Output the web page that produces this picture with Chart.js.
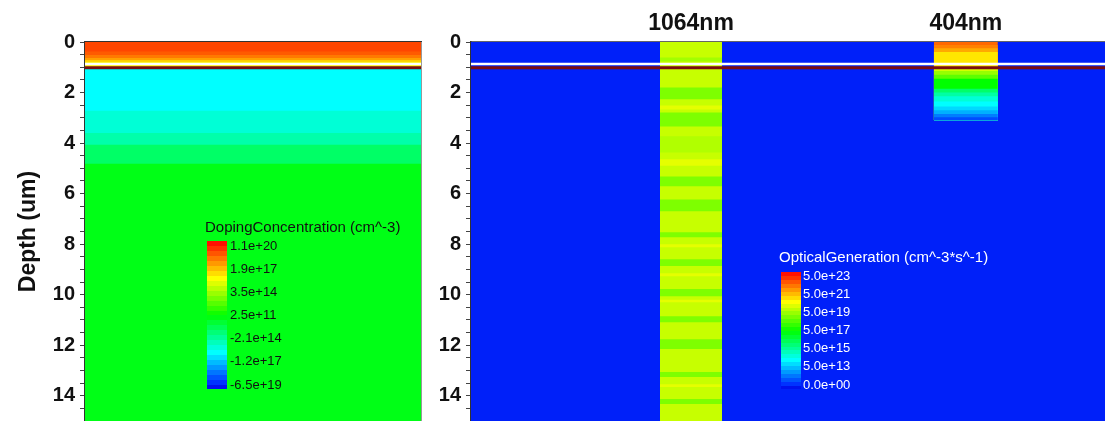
<!DOCTYPE html>
<html>
<head>
<meta charset="utf-8">
<script src="https://cdn.jsdelivr.net/npm/chart.js@4.4.1/dist/chart.umd.min.js"></script>
<style>
  body { margin: 0; background: #fff; }
  #wrap { position: relative; width: 1105px; height: 421px; overflow: hidden; }
  #left { position: absolute; left: 0; top: 0; width: 422px; height: 421px; }
  #right { position: absolute; left: 422px; top: 0; width: 683px; height: 421px; }
</style>
</head>
<body>
<div id="wrap">
  <div id="left"><canvas id="dopingChart"></canvas></div>
  <div id="right"><canvas id="genChart"></canvas></div>
</div>
<script>
var depthTickLabels = ["0", "2", "4", "6", "8", "10", "12", "14"];

// doping profile: top of each band (um) and net doping (cm^-3)
var dopingDepth = [0, 0.38, 0.51, 0.63, 0.71, 0.78, 1.02, 2.72, 3.6, 4.07, 4.82];
var dopingValue = [8e18, 3.8e18, 1.2e18, 2.8e17, 5e16, 1.4e16, -5e15, -1.1e15, -2.1e14, -1e4, 1e8];
var dopingLegendLabels = ["1.1e+20", "1.9e+17", "3.5e+14", "2.5e+11", "-2.1e+14", "-1.2e+17", "-6.5e+19"];
var dopingLegendTicks = [1.1e20, 1.9e17, 3.5e14, 2.5e11, -2.1e14, -1.2e17, -6.5e19];

// white line and dark red line near the junction (um)
var boundaryDepth = [0.87, 1.02];

// optical generation (cm^-3 s^-1)
var laserLabels = ["1064nm", "404nm"];
var laserLeft = [29.8, 73.0];
var laserRight = [39.6, 83.1];
var backgroundGen = 1.2e12;

var gen1064Depth = [0, 0.61, 0.77, 1.80, 2.27, 2.51, 2.67, 2.79, 3.34, 3.73,
  4.37, 4.64, 4.90, 5.32, 5.71, 6.23, 6.70, 7.53, 7.73, 8.00,
  8.12, 8.60, 8.87, 9.15, 9.27, 9.78, 10.06, 10.20, 10.30, 10.85,
  11.09, 11.76, 12.15, 13.06, 13.26, 13.55, 13.65, 14.13, 14.33];
var gen1064Value = [1.1e20, 4e19, 1.1e20, 1.5e19, 1.1e20, 2.5e20, 1.1e20, 1.5e19, 1.1e20, 6e19,
  1.1e20, 2.5e20, 1.1e20, 1.5e19, 1.1e20, 1.5e19, 1.1e20, 1.5e19, 1.1e20, 2.5e20,
  1.1e20, 1.5e19, 1.1e20, 2.5e20, 1.1e20, 1.5e19, 1.1e20, 2.5e20, 1.1e20, 1.5e19,
  1.1e20, 1.5e19, 1.1e20, 1.5e19, 1.1e20, 2.5e20, 1.1e20, 1.5e19, 1.1e20];

var gen404Depth = [0, 0.12, 0.25, 0.4, 1.0, 1.15, 1.3, 1.45, 1.85, 2.0, 2.15, 2.35, 2.55, 2.7, 2.85, 2.98];
var gen404Value = [3e22, 1.5e22, 5e21, 9.7e20, 1.5e20, 3e19, 6e18, 5e17, 3e16, 6e15, 1.5e15, 5e14, 1.8e14, 6e13, 1.5e13, 4e12];
var gen404Bottom = 3.1;

var genLegendLabels = ["5.0e+23", "5.0e+21", "5.0e+19", "5.0e+17", "5.0e+15", "5.0e+13", "0.0e+00"];
var genLegendTicks = [5e23, 5e21, 5e19, 5e17, 5e15, 5e13, 0];

var FONT = "'Liberation Sans', Arial, sans-serif";

var jetStops = [
  [0, [0, 0, 225]],
  [0.04, [0, 40, 255]],
  [0.25, [0, 255, 255]],
  [0.5, [0, 255, 0]],
  [0.75, [255, 255, 0]],
  [1, [255, 0, 0]]
];

function jet(t) {
  t = Math.min(Math.max(t, 0), 1);
  for (var i = 0; i < jetStops.length - 1; i++) {
    var a = jetStops[i], b = jetStops[i + 1];
    if (t <= b[0]) {
      var f = (t - a[0]) / (b[0] - a[0]);
      var c = a[1].map(function (v, k) { return Math.round(v + (b[1][k] - v) * f); });
      return "rgb(" + c.join(",") + ")";
    }
  }
  return "rgb(255,0,0)";
}

function slog(v) {
  return (v < 0 ? -1 : 1) * Math.log10(1 + Math.abs(v));
}

function dopingColor(v) {
  var ticks = dopingLegendTicks.slice().reverse();
  var n = ticks.length - 1;
  var s = slog(v);
  for (var i = 0; i < n; i++) {
    var a = slog(ticks[i]), b = slog(ticks[i + 1]);
    if (s <= b || i === n - 1) {
      var f = Math.min(Math.max((s - a) / (b - a), 0), 1);
      return jet((i + f) / n);
    }
  }
}

function genColor(v) {
  var top = Math.log10(genLegendTicks[0]);
  var step = (top - Math.log10(genLegendTicks[genLegendTicks.length - 2])) / (genLegendTicks.length - 2);
  var low = top - step * (genLegendTicks.length - 1);
  if (v <= 0) return jet(0);
  return jet((Math.log10(v) - low) / (top - low));
}

function band(x0, x1, top, bottom, color, order) {
  return {
    data: [{ x: x0, y: top }, { x: x1, y: top }],
    fill: { value: bottom },
    backgroundColor: color,
    borderColor: "rgba(0,0,0,0)",
    borderWidth: 0,
    pointRadius: 0,
    tension: 0,
    order: order
  };
}

function boundaryLines() {
  var colors = ["#ffffff", "#7a0c12"];
  var widths = [2.5, 3];
  return boundaryDepth.map(function (d, i) {
    return {
      data: [{ x: 0, y: d }, { x: 100, y: d }],
      borderColor: colors[i],
      borderWidth: widths[i],
      pointRadius: 0,
      fill: false,
      order: -1000
    };
  });
}

function depthAxis(width, withTitle) {
  return {
    type: "linear",
    reverse: true,
    min: 0,
    max: 15,
    afterFit: function (scale) {
      scale.width = width;
      scale.paddingTop = 0;
      scale.paddingBottom = 0;
    },
    ticks: {
      stepSize: 0.5,
      autoSkip: false,
      padding: 5,
      color: "#111",
      font: { family: FONT, size: 20, weight: "bold" },
      callback: function (value) {
        return depthTickLabels.indexOf(String(value)) >= 0 ? String(value) : "";
      }
    },
    grid: { drawOnChartArea: false, tickLength: 5, color: "#444", tickWidth: 1 },
    border: { display: true, color: "#333", width: 1.5 },
    title: {
      display: withTitle,
      text: "Depth (um)",
      color: "#111",
      font: { family: FONT, size: 23, weight: "bold" },
      padding: { top: 15, bottom: 0 }
    }
  };
}

function colorBar(cfg) {
  return {
    id: "colorBar",
    afterDraw: function (chart) {
      var ctx = chart.ctx;
      var steps = 30;
      var h = cfg.bottom - cfg.top;
      ctx.save();
      for (var i = 0; i < steps; i++) {
        var y1 = cfg.bottom - h * i / steps;
        var y0 = cfg.bottom - h * (i + 1) / steps;
        ctx.fillStyle = jet((i + 0.5) / steps);
        ctx.fillRect(cfg.left, Math.floor(y0), cfg.width, Math.ceil(y1) - Math.floor(y0));
      }
      ctx.fillStyle = cfg.textColor;
      ctx.textBaseline = "middle";
      ctx.textAlign = "left";
      ctx.font = "15px " + FONT;
      ctx.fillText(cfg.title, cfg.titleLeft, cfg.titleY);
      ctx.font = "13px " + FONT;
      cfg.labels.forEach(function (label, i) {
        var y = cfg.labelTop + (cfg.labelBottom - cfg.labelTop) * i / (cfg.labels.length - 1);
        ctx.fillText(label, cfg.labelLeft, y);
      });
      ctx.restore();
    }
  };
}

var baseOptions = function (scales) {
  return {
    responsive: true,
    maintainAspectRatio: false,
    animation: false,
    events: [],
    layout: { padding: 0 },
    plugins: { legend: { display: false }, tooltip: { enabled: false } },
    scales: scales
  };
};

// left: doping concentration
var leftSets = boundaryLines();
dopingDepth.forEach(function (d, i) {
  leftSets.push(band(0, 100, d, 15, dopingColor(dopingValue[i]), -i));
});

new Chart(document.getElementById("dopingChart"), {
  type: "line",
  data: { datasets: leftSets },
  options: baseOptions({
    x: {
      type: "linear", position: "top", min: 0, max: 100,
      ticks: { display: false },
      grid: { display: false, drawTicks: false },
      border: { display: true, color: "#333", width: 1.5 },
      afterFit: function (scale) { scale.height = 42; }
    },
    y: depthAxis(85, true),
    yr: {
      position: "right",
      ticks: { display: false },
      grid: { display: false, drawTicks: false },
      border: { display: true, color: "#999", width: 1 },
      afterFit: function (scale) { scale.width = 1; }
    }
  }),
  plugins: [colorBar({
    title: "DopingConcentration (cm^-3)", labels: dopingLegendLabels, textColor: "#111",
    titleLeft: 205, titleY: 228, left: 207, width: 20, top: 241, bottom: 389,
    labelLeft: 230, labelTop: 246, labelBottom: 385
  })]
});

// right: optical generation
var rightSets = boundaryLines();
gen1064Depth.forEach(function (d, i) {
  rightSets.push(band(laserLeft[0], laserRight[0], d, 15, genColor(gen1064Value[i]), -i));
});
gen404Depth.forEach(function (d, i) {
  rightSets.push(band(laserLeft[1], laserRight[1], d, gen404Bottom, genColor(gen404Value[i]), -i));
});
rightSets.push(band(0, 100, 0, 15, genColor(backgroundGen), 1000));

var laserCenter = laserLeft.map(function (l, i) { return (l + laserRight[i]) / 2; });

new Chart(document.getElementById("genChart"), {
  type: "line",
  data: { datasets: rightSets },
  options: baseOptions({
    x: {
      type: "linear", position: "top", min: 0, max: 100,
      afterBuildTicks: function (scale) {
        scale.ticks = laserCenter.map(function (v) { return { value: v }; });
      },
      afterFit: function (scale) { scale.height = 42; },
      ticks: {
        autoSkip: false, maxRotation: 0, padding: 5, color: "#111",
        font: { family: FONT, size: 23, weight: "bold" },
        callback: function (value, index) { return laserLabels[index]; }
      },
      grid: { display: false, drawTicks: false },
      border: { display: true, color: "#666", width: 1.5 }
    },
    y: depthAxis(49, false)
  }),
  plugins: [colorBar({
    title: "OpticalGeneration (cm^-3*s^-1)", labels: genLegendLabels, textColor: "#ffffff",
    titleLeft: 357, titleY: 258, left: 359, width: 20, top: 272, bottom: 389,
    labelLeft: 381, labelTop: 276, labelBottom: 385
  })]
});
</script>
</body>
</html>
